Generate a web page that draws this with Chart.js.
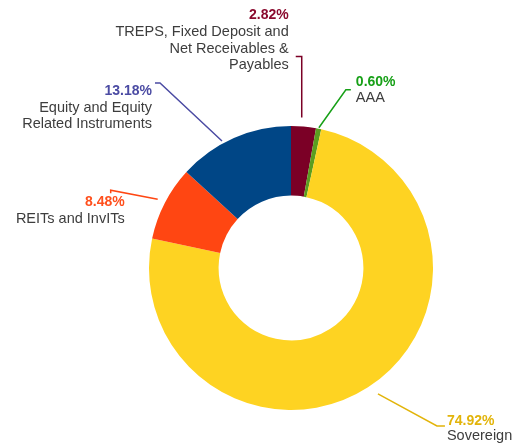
<!DOCTYPE html>
<html>
<head>
<meta charset="utf-8">
<script src="https://cdn.jsdelivr.net/npm/chart.js@4.4.0/dist/chart.umd.min.js"></script>
<style>
  body { margin: 0; background: #fff; }
  #wrap { width: 521px; height: 447px; }
</style>
</head>
<body>
<div id="wrap"><canvas id="allocChart" width="521" height="447"></canvas></div>
<script>
// Portfolio allocation (%), clockwise from 12 o'clock
const categories = [
    ['TREPS, Fixed Deposit and', 'Net Receivables &', 'Payables'],
    ['AAA'],
    ['Sovereign'],
    ['REITs and InvITs'],
    ['Equity and Equity', 'Related Instruments']
];
const allocation = [2.82, 0.60, 74.92, 8.48, 13.18];
const sliceColors = ['#7b0026', '#5b9e1f', '#fed322', '#ff4612', '#004686'];
const labelColors = ['#8a0a2e', '#17a017', '#e2b40a', '#ff4f1c', '#4b4ba3'];
const lineColors = ['#7b0026', '#17a017', '#e2b40a', '#ff4612', '#4b4ba3'];

// leader line layout: [angle shift deg, gap from arc, elbow dx, elbow dy, tail dx, tail dy]
const leaders = [
    [-1, 9, 0, -61, -6, 0],
    [0, 1, 27, -38, 5, 0],
    [-1.8, 11, 59, 32, 8, 0],
    [0, 8, -47, -9, 0, 3],
    [-4.8, 2.5, -62, -58, -5, 0]
];
// text placement relative to line tail: [align, dx, dy of first line, line step]
const textPos = [
    ['right', -7, -41, 16.7],
    ['left', 5, -8, 16],
    ['left', 2, -5, 15.5],
    ['right', 14, 9, 17],
    ['right', -3, 8, 16.5]
];

const labelPlugin = {
    id: 'outerLabels',
    afterDatasetsDraw(chart) {
        const ctx = chart.ctx;
        const meta = chart.getDatasetMeta(0);
        meta.data.forEach((arc, i) => {
            const p = arc.getProps(['x', 'y', 'startAngle', 'endAngle', 'outerRadius'], true);
            const L = leaders[i];
            const mid = (p.startAngle + p.endAngle) / 2 + L[0] * Math.PI / 180;
            const r = p.outerRadius + L[1];
            const x0 = p.x + Math.cos(mid) * r;
            const y0 = p.y + Math.sin(mid) * r;
            const x1 = x0 + L[2], y1 = y0 + L[3];
            const x2 = x1 + L[4], y2 = y1 + L[5];
            ctx.save();
            ctx.strokeStyle = lineColors[i];
            ctx.lineWidth = 1.5;
            ctx.beginPath();
            ctx.moveTo(x0, y0);
            ctx.lineTo(x1, y1);
            ctx.lineTo(x2, y2);
            ctx.stroke();

            const T = textPos[i];
            ctx.textAlign = T[0];
            ctx.textBaseline = 'middle';
            const tx = x2 + T[1];
            const ty = y2 + T[2];
            ctx.fillStyle = labelColors[i];
            ctx.font = 'bold 14px "Liberation Sans", Arial, sans-serif';
            ctx.fillText(allocation[i].toFixed(2) + '%', tx, ty);
            ctx.fillStyle = '#3d3d3d';
            ctx.font = '14.5px "Liberation Sans", Arial, sans-serif';
            categories[i].forEach((ln, k) => ctx.fillText(ln, tx, ty + T[3] * (k + 1)));
            ctx.restore();
        });
    }
};

const ctx = document.getElementById('allocChart').getContext('2d');
const allocChart = new Chart(ctx, {
    type: 'doughnut',
    data: {
        labels: categories.map(c => c.join(' ')),
        datasets: [{
            data: allocation,
            backgroundColor: sliceColors,
            borderWidth: 0
        }]
    },
    options: {
        responsive: false,
        animation: false,
        cutout: '51%',
        layout: {
            padding: { left: 149, right: 88, top: 126, bottom: 37 }
        },
        plugins: {
            legend: { display: false },
            tooltip: { enabled: false }
        }
    },
    plugins: [labelPlugin]
});
</script>
</body>
</html>
